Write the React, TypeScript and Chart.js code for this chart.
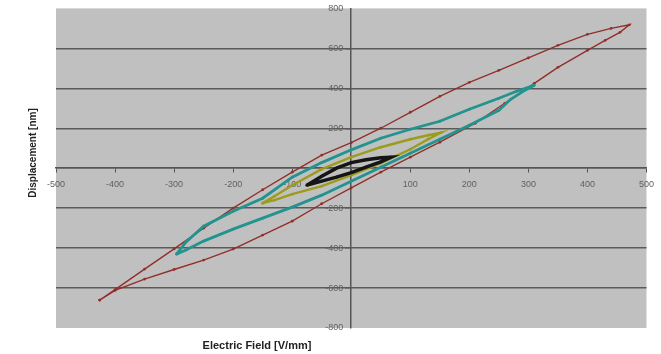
import React, { useEffect, useRef } from "react";
import { Chart, registerables } from "chart.js";

Chart.register(...registerables);

// x: Electric Field [V/mm], y: Displacement [nm]
const redLoop: [number, number][] = [
  [-426, -660], [-400, -608], [-350, -505], [-300, -404], [-250, -300], [-200, -200],
  [-150, -108], [-100, -20], [-50, 65], [0, 128], [50, 200], [100, 280], [150, 360],
  [200, 430], [250, 490], [300, 552], [350, 615], [400, 670], [440, 700], [471, 718],
  [455, 680], [430, 640], [400, 590], [350, 505], [310, 425], [260, 325], [210, 225],
  [150, 130], [100, 55], [50, -20], [0, -98], [-50, -178], [-100, -265], [-150, -335],
  [-200, -405], [-250, -460], [-300, -507], [-350, -555], [-400, -612], [-426, -660],
];

const tealLoop: [number, number][] = [
  [-296, -430], [-280, -370], [-250, -290], [-200, -215], [-150, -150], [-100, -45],
  [-50, 28], [0, 92], [50, 150], [100, 195], [150, 235], [200, 295], [250, 350],
  [280, 385], [310, 415],
  [295, 392], [270, 345], [250, 290], [200, 215], [150, 145], [100, 75], [50, 5],
  [0, -65], [-50, -135], [-100, -195], [-150, -250], [-200, -305], [-250, -365],
  [-280, -410], [-296, -430],
];

const yellowLoop: [number, number][] = [
  [-150, -175], [-130, -140], [-100, -85], [-50, -5], [0, 55], [50, 105], [100, 145],
  [130, 165], [152, 178],
  [130, 145], [100, 95], [50, 25], [0, -35], [-50, -90], [-100, -130], [-130, -160],
  [-150, -175],
];

const blackLoop: [number, number][] = [
  [-75, -85], [-50, -40], [-25, 0], [0, 28], [25, 42], [50, 52], [67, 55],
  [50, 32], [25, 5], [0, -22], [-25, -45], [-50, -65], [-75, -85],
];

const xTickStep = 100;
const yTickStep = 200;
const xRange = [-500, 500];
const yRange = [-800, 800];
const xTitle = "Electric Field [V/mm]";
const yTitle = "Displacement [nm]";

const toPoints = (arr: [number, number][]) => arr.map(([x, y]) => ({ x, y }));
const FONT = "'Liberation Sans', Arial, sans-serif";

export default function App() {
  const ref = useRef<HTMLCanvasElement | null>(null);

  useEffect(() => {
    if (!ref.current) return;
    const bgPlugin = {
      id: "bgPlugin",
      beforeDraw(chart: any) {
        const { ctx, chartArea } = chart;
        ctx.save();
        ctx.fillStyle = "#c0c0c0";
        ctx.fillRect(chartArea.left, chartArea.top, chartArea.right - chartArea.left, chartArea.bottom - chartArea.top);
        ctx.restore();
      },
      afterDraw(chart: any) {
        const { ctx } = chart;
        const ys = chart.scales.y;
        const xs = chart.scales.x;
        const axisX = xs.getPixelForValue(0);
        ctx.save();
        // y tick labels, left of the vertical axis
        ctx.fillStyle = "#606060";
        ctx.font = `9px ${FONT}`;
        ctx.textAlign = "right";
        ctx.textBaseline = "middle";
        ys.ticks.forEach((t: any) => {
          if (t.value === 0) return;
          ctx.fillText(String(t.value), axisX - 8, ys.getPixelForValue(t.value));
        });
        // axis titles
        ctx.fillStyle = "#222";
        ctx.font = `bold 11px ${FONT}`;
        ctx.textAlign = "center";
        ctx.textBaseline = "middle";
        ctx.fillText(xTitle, 257, 346);
        ctx.translate(33, 153);
        ctx.rotate(-Math.PI / 2);
        ctx.font = `bold 10px ${FONT}`;
        ctx.fillText(yTitle, 0, 0);
        ctx.restore();
      },
    };

    const mk = (label: string, data: [number, number][], color: string, width: number, order: number) => ({
      label,
      data: toPoints(data),
      showLine: true,
      borderColor: color,
      backgroundColor: color,
      borderWidth: width,
      pointRadius: 1.4,
      pointBorderWidth: 0,
      pointBackgroundColor: color,
      tension: 0,
      order,
    });

    const chart = new Chart(ref.current, {
      type: "scatter",
      data: {
        datasets: [
          mk("red", redLoop, "#922f2b", 1.4, 4),
          mk("teal", tealLoop, "#23938f", 2.8, 3),
          mk("yellow", yellowLoop, "#9c9c1c", 2.4, 2),
          mk("black", blackLoop, "#151515", 3.5, 1),
        ],
      },
      options: {
        responsive: false,
        animation: false,
        layout: { padding: { left: 56, right: 11, top: 8, bottom: 26 } },
        plugins: { legend: { display: false }, tooltip: { enabled: false } },
        scales: {
          x: {
            type: "linear",
            position: { y: 0 } as any,
            min: xRange[0],
            max: xRange[1],
            ticks: {
              stepSize: xTickStep,
              color: "#606060",
              font: { size: 9, family: FONT },
              padding: 7,
              maxRotation: 0,
              callback: (v: any) => (v === 0 ? "" : String(v)),
            },
            grid: { drawOnChartArea: false, drawTicks: true, tickLength: 4, color: "#555", lineWidth: 1 },
            border: { display: true, color: "#555", width: 1.5 },
          },
          y: {
            type: "linear",
            position: { x: 0 } as any,
            min: yRange[0],
            max: yRange[1],
            ticks: {
              stepSize: yTickStep,
              color: "rgba(0,0,0,0)",
              font: { size: 9, family: FONT },
              padding: 3,
              callback: (v: any) => (v === 0 ? "" : String(v)),
            },
            grid: {
              drawTicks: true,
              tickLength: 5,
              color: (c: any) => (c.tick && Math.abs(c.tick.value) === 800 ? "rgba(0,0,0,0)" : "#5a5a5a"),
              lineWidth: 1.5,
            },
            border: { display: true, color: "#555", width: 1.5 },
          },
        },
      },
      plugins: [bgPlugin],
    });
    return () => chart.destroy();
  }, []);

  return (
    <div style={{ position: "fixed", left: 0, top: 0, width: 661, height: 354, background: "#fff" }}>
      <canvas ref={ref} width={661} height={354} style={{ width: 661, height: 354, display: "block" }} />
    </div>
  );
}
